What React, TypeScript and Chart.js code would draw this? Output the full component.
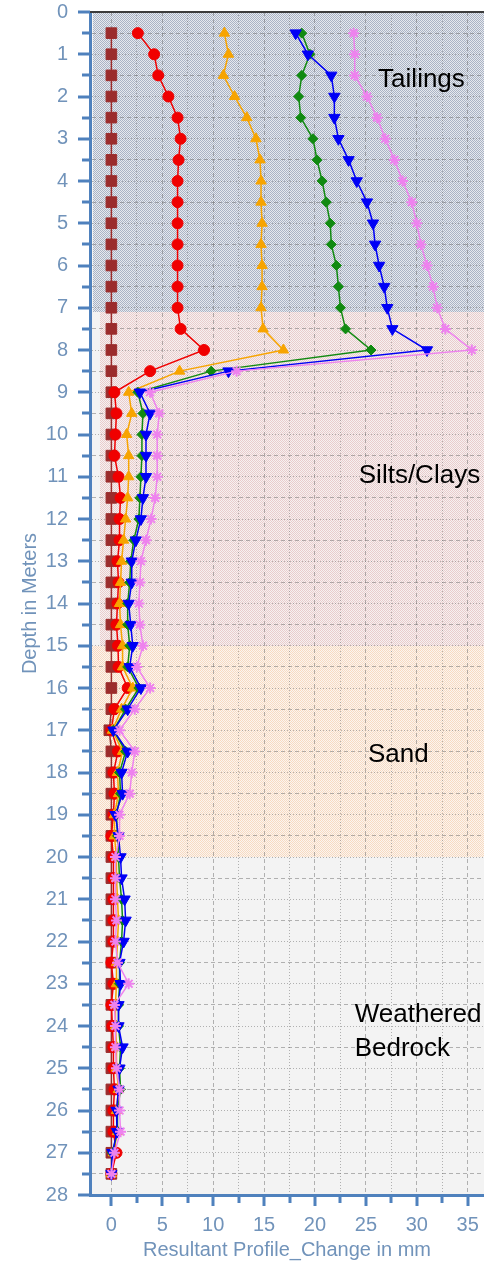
import React, { useEffect, useRef } from 'react';
import { Chart, registerables } from 'chart.js';

Chart.register(...registerables);

// ---------------- data ----------------
const depths = [
  0.5, 1, 1.5, 2, 2.5, 3, 3.5, 4, 4.5, 5, 5.5, 6, 6.5, 7, 7.5, 8,
  8.5, 9, 9.5, 10, 10.5, 11, 11.5, 12, 12.5, 13, 13.5, 14, 14.5,
  15, 15.5, 16, 16.5, 17, 17.5, 18, 18.5, 19, 19.5, 20,
  20.5, 21, 21.5, 22, 22.5, 23, 23.5, 24, 24.5, 25, 25.5, 26, 26.5, 27, 27.5,
];

const seriesBase = [
  0, 0, 0, 0, 0, 0, 0, 0, 0, 0, 0, 0, 0, 0, 0, 0,
  0, 0, 0, 0, 0, 0, 0, 0, 0, 0, 0, 0, 0,
  0, 0, 0, 0, -0.2, 0, 0, 0, 0, 0, 0,
  0, 0, 0, 0, 0, 0, 0, 0, 0, 0, 0, 0, 0, 0, 0,
];

const seriesRed = [
  2.6, 4.2, 4.6, 5.6, 6.5, 6.8, 6.6, 6.5, 6.5, 6.5, 6.5, 6.5, 6.5, 6.5, 6.8, 9.1,
  3.8, 0.3, 0.5, 0.4, 0.3, 0.7, 0.9, 0.8, 0.8, 0.6, 0.7, 0.6, 0.5,
  0.65, 0.7, 1.6, 0.3, 0.0, 0.65, 0.2, 0.3, 0.2, 0.0, 0.2,
  0.2, 0.2, 0.2, 0.2, 0.0, 0.2, 0.0, 0.1, 0.2, 0.2, 0.3, 0.2, 0.2, 0.5, 0.0,
];

const seriesOrange = [
  11.1, 11.5, 11.0, 12.1, 13.3, 14.2, 14.6, 14.7, 14.7, 14.8, 14.7, 14.8, 14.8, 14.7, 14.9, 16.9,
  6.7, 1.7, 2.0, 1.5, 1.7, 1.7, 1.6, 1.4, 1.2, 1.0, 0.9, 0.8, 0.9,
  1.1, 1.1, 2.1, 1.0, 0.1, 1.1, 0.6, 0.7, 0.3, 0.3, 0.5,
  0.5, 0.6, 0.7, 0.6, 0.5, 0.5, 0.4, 0.4, 0.5, 0.5, 0.7, 0.5, 0.6, 0.2, 0.0,
];

const seriesGreen = [
  18.7, 19.5, 18.7, 18.4, 18.6, 19.8, 20.2, 20.7, 21.1, 21.5, 21.6, 22.1, 22.3, 22.5, 23.0, 25.5,
  9.8, 2.6, 3.1, 3.0, 3.0, 2.9, 2.8, 2.7, 2.2, 1.9, 1.8, 1.6, 1.6,
  1.8, 1.6, 2.7, 1.4, 0.2, 1.4, 0.8, 0.9, 0.5, 0.6, 0.7,
  0.8, 1.0, 1.1, 1.0, 0.8, 0.8, 0.7, 0.7, 0.9, 0.8, 0.9, 0.6, 0.6, 0.1, 0.0,
];

const seriesBlue = [
  18.1, 19.3, 21.6, 21.9, 21.9, 22.3, 23.3, 24.1, 25.1, 25.7, 25.9, 26.3, 26.8, 27.1, 27.6, 31.0,
  11.5, 2.8, 3.8, 3.4, 3.4, 3.4, 3.1, 2.9, 2.4, 2.0, 2.0, 1.7, 1.9,
  2.1, 1.8, 2.9, 1.6, 0.2, 1.6, 1.0, 1.1, 0.4, 0.7, 0.9,
  1.0, 1.3, 1.4, 1.2, 0.8, 0.9, 0.7, 0.7, 1.1, 0.8, 0.7, 0.5, 0.55, 0.1, 0.0,
];

const seriesViolet = [
  23.8, 23.9, 23.9, 25.1, 26.1, 26.9, 27.8, 28.6, 29.5, 30.0, 30.4, 31.0, 31.6, 32.0, 32.8, 35.4,
  12.3, 3.8, 4.7, 4.5, 4.5, 4.5, 4.3, 3.9, 3.4, 2.9, 2.8, 2.7, 2.8,
  3.1, 2.5, 3.8, 2.3, 0.8, 2.3, 2.0, 1.8, 0.8, 0.8, 0.4,
  0.4, 0.4, 0.5, 0.4, 0.6, 1.7, 0.3, 0.4, 0.4, 0.5, 0.8, 0.8, 0.9, 0.3, 0.0,
];

const xTicks = [0, 2.5, 5, 7.5, 10, 12.5, 15, 17.5, 20, 22.5, 25, 27.5, 30, 32.5, 35];
const xTickLabels = ['0', '', '5', '', '10', '', '15', '', '20', '', '25', '', '30', '', '35'];

const yTicks = [
  0, 0.5, 1, 1.5, 2, 2.5, 3, 3.5, 4, 4.5, 5, 5.5, 6, 6.5, 7, 7.5, 8, 8.5, 9, 9.5,
  10, 10.5, 11, 11.5, 12, 12.5, 13, 13.5, 14, 14.5, 15, 15.5, 16, 16.5, 17, 17.5,
  18, 18.5, 19, 19.5, 20, 20.5, 21, 21.5, 22, 22.5, 23, 23.5, 24, 24.5, 25, 25.5,
  26, 26.5, 27, 27.5, 28,
];
const yTickLabels = yTicks.map((v) => (Number.isInteger(v) ? String(v) : ''));

// soil layers
const layerNames = [['Tailings'], ['Silts/Clays'], ['Sand'], ['Weathered', 'Bedrock']];
const layerTop = [0, 7.1, 15, 20];
const layerBottom = [7.1, 15, 20, 28];
const layerXStart = [-1.8, -1.1, -2.0, -2.1];
const layerLabelX = [26.2, 24.3, 25.2, 23.9];
const layerLabelY = [1.78, 11.15, 17.74, 23.9];

// ---------------- styles ----------------
const FONT = "'Liberation Sans', Arial, sans-serif";
const AXIS_COLOR = '#4f81bd';
const TICK_COLOR = '#7193ba';
const GRID_COLOR = 'rgba(110,110,110,0.5)';
const PLOT_BG = '#f3f3f3';
const layerFill = [
  ['#aab3c5', '#e6e9ee'],
  ['#e9cccc', '#f6f1f1'],
  ['#f7dac2', '#fbf5ef'],
  [PLOT_BG, PLOT_BG],
];

const seriesStyle = [
  { label: 'Base', data: seriesBase, color: '#9b2c2c', shape: 'rect', r: 7.5, rot: 0, bw: 1 },
  { label: 'Red', data: seriesRed, color: '#f00000', shape: 'circle', r: 5.5, rot: 0, bw: 1 },
  { label: 'Orange', data: seriesOrange, color: '#f7a400', shape: 'triangle', r: 6, rot: 0, bw: 1 },
  { label: 'Green', data: seriesGreen, color: '#118a11', shape: 'rectRot', r: 5, rot: 0, bw: 1 },
  { label: 'Blue', data: seriesBlue, color: '#0000f5', shape: 'triangle', r: 6.5, rot: 180, bw: 1 },
  { label: 'Violet', data: seriesViolet, color: '#ee82ee', shape: 'star', r: 5.5, rot: 0, bw: 2 },
];

function dither(ctx: CanvasRenderingContext2D, a: string, b: string) {
  const c = document.createElement('canvas');
  c.width = 2;
  c.height = 2;
  const g = c.getContext('2d') as CanvasRenderingContext2D;
  g.fillStyle = b;
  g.fillRect(0, 0, 2, 2);
  g.fillStyle = a;
  g.fillRect(0, 0, 1, 1);
  g.fillRect(1, 1, 1, 1);
  return ctx.createPattern(c, 'repeat') as CanvasPattern;
}

const layerPlugin = {
  id: 'layers',
  beforeDraw(chart: any) {
    const { ctx, chartArea: a, scales } = chart;
    const x = scales.x;
    const y = scales.y;
    ctx.save();
    ctx.fillStyle = PLOT_BG;
    ctx.fillRect(a.left, a.top, a.right - a.left, a.bottom - a.top);
    layerTop.forEach((t, i) => {
      const x0 = Math.round(Math.max(a.left, x.getPixelForValue(layerXStart[i])));
      const y0 = Math.round(y.getPixelForValue(t));
      const y1 = Math.round(y.getPixelForValue(layerBottom[i]));
      ctx.fillStyle = dither(ctx, layerFill[i][0], layerFill[i][1]);
      ctx.fillRect(x0, y0, a.right - x0, y1 - y0);
    });
    ctx.restore();
  },
  afterDatasetsDraw(chart: any) {
    const { ctx, scales } = chart;
    ctx.save();
    ctx.fillStyle = '#000000';
    ctx.font = `26px ${FONT}`;
    ctx.textAlign = 'left';
    ctx.textBaseline = 'alphabetic';
    layerNames.forEach((lines, i) => {
      const px = scales.x.getPixelForValue(layerLabelX[i]);
      const py = scales.y.getPixelForValue(layerLabelY[i]);
      lines.forEach((line, j) => ctx.fillText(line, px, py + j * 34));
    });
    ctx.restore();
  },
  afterDraw(chart: any) {
    const { ctx, chartArea: a, scales } = chart;
    ctx.save();
    // top frame line
    ctx.strokeStyle = '#3c3c3c';
    ctx.lineWidth = 2;
    ctx.beginPath();
    ctx.moveTo(a.left, a.top);
    ctx.lineTo(a.right, a.top);
    ctx.stroke();
    // tick marks
    ctx.strokeStyle = AXIS_COLOR;
    ctx.lineWidth = 3;
    yTicks.forEach((v) => {
      const py = Math.round(scales.y.getPixelForValue(v));
      const len = Number.isInteger(v) ? 12 : 8;
      ctx.beginPath();
      ctx.moveTo(a.left - len, py);
      ctx.lineTo(a.left, py);
      ctx.stroke();
    });
    xTicks.forEach((v) => {
      const px = Math.round(scales.x.getPixelForValue(v));
      const len = v % 5 === 0 ? 11 : 8;
      ctx.beginPath();
      ctx.moveTo(px, a.bottom);
      ctx.lineTo(px, a.bottom + len);
      ctx.stroke();
    });
    ctx.restore();
  },
};

export default function App() {
  const ref = useRef<HTMLCanvasElement | null>(null);

  useEffect(() => {
    if (!ref.current) return;
    const datasets = seriesStyle.map((s, i) => ({
      label: s.label,
      data: depths.map((d, k) => ({ x: s.data[k], y: d })),
      showLine: true,
      borderColor: s.color,
      backgroundColor: s.color,
      borderWidth: 1.5,
      pointStyle: s.shape,
      pointRadius: s.r,
      pointRotation: s.rot,
      pointBorderWidth: s.bw,
      pointBorderColor: s.color,
      pointBackgroundColor: s.color,
      order: seriesStyle.length - 1 - i,
      clip: false as any,
    }));

    const chart = new Chart(ref.current, {
      type: 'scatter',
      data: { datasets: datasets as any },
      options: {
        animation: false,
        responsive: false,
        devicePixelRatio: 1,
        layout: { autoPadding: false, padding: { left: 14, top: 12, right: 0, bottom: 0 } },
        plugins: { legend: { display: false }, tooltip: { enabled: false } },
        scales: {
          x: {
            type: 'linear',
            position: 'bottom',
            min: -2.1,
            max: 36.6,
            afterBuildTicks: (s: any) => {
              s.ticks = xTicks.map((v) => ({ value: v }));
            },
            afterFit: (s: any) => {
              s.height = 70;
              s.paddingLeft = 0;
              s.paddingRight = 0;
              s.paddingTop = 0;
              s.paddingBottom = 0;
            },
            ticks: {
              autoSkip: false,
              maxRotation: 0,
              minRotation: 0,
              padding: 18,
              color: TICK_COLOR,
              font: { family: FONT, size: 20 },
              callback: (_v: any, i: number) => xTickLabels[i],
            },
            grid: { drawTicks: false, color: GRID_COLOR, lineWidth: 1 },
            border: {
              display: true,
              color: AXIS_COLOR,
              width: 3,
              dash: (c: any) => (c.tick ? (c.tick.value % 5 === 0 ? [4, 3] : [1, 2]) : []),
            },
            title: {
              display: true,
              text: 'Resultant Profile_Change in mm',
              color: TICK_COLOR,
              font: { family: FONT, size: 20 },
              padding: { top: 4, bottom: 3 },
            },
          },
          y: {
            type: 'linear',
            position: 'left',
            reverse: true,
            min: 0,
            max: 28,
            afterBuildTicks: (s: any) => {
              s.ticks = yTicks.map((v) => ({ value: v }));
            },
            afterFit: (s: any) => {
              s.width = 76;
              s.paddingLeft = 0;
              s.paddingRight = 0;
              s.paddingTop = 0;
              s.paddingBottom = 0;
            },
            ticks: {
              autoSkip: false,
              padding: 22,
              color: TICK_COLOR,
              font: { family: FONT, size: 20 },
              callback: (_v: any, i: number) => yTickLabels[i],
            },
            grid: { drawTicks: false, color: GRID_COLOR, lineWidth: 1 },
            border: {
              display: true,
              color: AXIS_COLOR,
              width: 3,
              dash: (c: any) => (c.tick ? (Number.isInteger(c.tick.value) ? [1, 2] : [4, 3]) : []),
            },
            title: {
              display: true,
              text: 'Depth in Meters',
              color: TICK_COLOR,
              font: { family: FONT, size: 20 },
              padding: { top: 4, bottom: 4 },
            },
          },
        },
      } as any,
      plugins: [layerPlugin as any],
    });
    return () => chart.destroy();
  }, []);

  return (
    <div style={{ position: 'absolute', left: 0, top: 0, width: 484, height: 1265, overflow: 'hidden' }}>
      <canvas ref={ref} width={484} height={1265} style={{ display: 'block' }} />
    </div>
  );
}
